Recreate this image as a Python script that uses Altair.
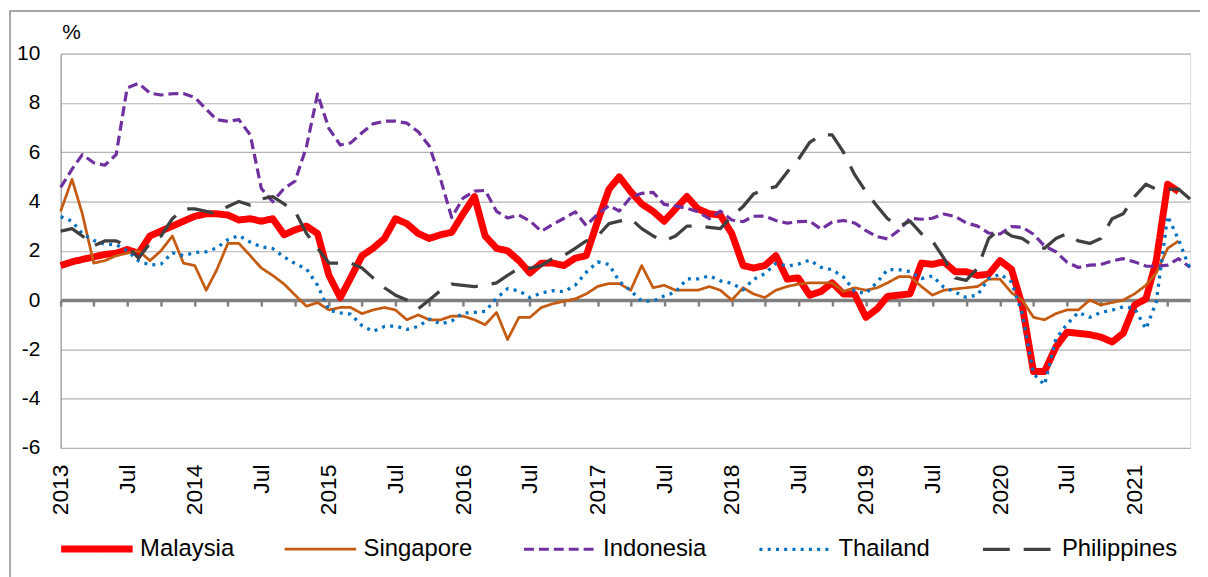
import altair as alt
import pandas as pd

# Monthly, Jan 2013 .. Jun 2021 (102 months)
months = pd.date_range("2013-01-01", "2021-06-01", freq="MS")
dates = [d.strftime("%Y-%m-%dT00:00:00") for d in months]

countries = ["Malaysia", "Singapore", "Indonesia", "Thailand", "Philippines"]

malaysia = [
    1.4, 1.55, 1.65, 1.75, 1.85, 1.9, 2.05, 1.9, 2.6, 2.8, 3.0, 3.2,
    3.4, 3.5, 3.5, 3.45, 3.25, 3.3, 3.2, 3.3, 2.65, 2.85, 3.0, 2.7,
    1.0, 0.1, 0.9, 1.8, 2.1, 2.5, 3.3, 3.1, 2.7, 2.5, 2.65, 2.75,
    3.5, 4.2, 2.6, 2.1, 2.0, 1.6, 1.1, 1.5, 1.5, 1.4, 1.7, 1.8,
    3.2, 4.5, 5.0, 4.4, 3.9, 3.6, 3.2, 3.7, 4.2, 3.7, 3.5, 3.45,
    2.7, 1.4, 1.3, 1.4, 1.8, 0.85, 0.9, 0.2, 0.35, 0.7, 0.25, 0.25,
    -0.7, -0.35, 0.15, 0.2, 0.25, 1.5, 1.45, 1.55, 1.15, 1.15, 1.0, 1.05,
    1.6, 1.25, -0.2, -2.9, -2.9, -1.9, -1.3, -1.35, -1.4, -1.5, -1.7, -1.35,
    -0.2, 0.05, 1.6, 4.7, 4.4, None,
]
singapore = [
    3.6, 4.9, 3.5, 1.5, 1.6, 1.8, 1.9, 2.0, 1.6, 2.0, 2.6, 1.5,
    1.4, 0.4, 1.2, 2.3, 2.3, 1.8, 1.3, 1.0, 0.65, 0.2, -0.25, -0.1,
    -0.4, -0.3, -0.3, -0.55, -0.4, -0.3, -0.4, -0.8, -0.6, -0.8, -0.8, -0.65,
    -0.65, -0.8, -1.0, -0.5, -1.6, -0.7, -0.7, -0.3, -0.15, -0.05, 0.05, 0.25,
    0.55, 0.67, 0.67, 0.4, 1.4, 0.5, 0.6, 0.4, 0.4, 0.4, 0.55, 0.4,
    0.0, 0.5, 0.25, 0.1, 0.4, 0.55, 0.65, 0.7, 0.7, 0.7, 0.35, 0.5,
    0.4, 0.5, 0.7, 0.95, 0.95, 0.55, 0.2, 0.4, 0.45, 0.5, 0.55, 0.85,
    0.85, 0.3, 0.0, -0.7, -0.8, -0.55, -0.4, -0.4, 0.0, -0.2, -0.1, 0.0,
    0.25, 0.6, 1.1, 2.1, 2.4, None,
]
indonesia = [
    4.57, 5.31, 5.90, 5.57, 5.47, 5.90, 8.61, 8.79, 8.40, 8.32, 8.37, 8.38,
    8.22, 7.75, 7.32, 7.25, 7.32, 6.70, 4.53, 3.99, 4.53, 4.83, 6.23, 8.36,
    6.96, 6.29, 6.38, 6.79, 7.15, 7.26, 7.26, 7.18, 6.83, 6.25, 4.89, 3.35,
    4.14, 4.42, 4.45, 3.60, 3.33, 3.45, 3.21, 2.79, 3.07, 3.31, 3.58, 3.02,
    3.49, 3.83, 3.61, 4.17, 4.33, 4.37, 3.88, 3.82, 3.72, 3.58, 3.30, 3.61,
    3.25, 3.18, 3.40, 3.41, 3.23, 3.12, 3.18, 3.20, 2.88, 3.16, 3.23, 3.13,
    2.82, 2.57, 2.48, 2.83, 3.32, 3.28, 3.32, 3.49, 3.39, 3.13, 3.00, 2.72,
    2.68, 2.98, 2.96, 2.67, 2.19, 1.96, 1.54, 1.32, 1.42, 1.44, 1.59, 1.68,
    1.55, 1.38, 1.37, 1.42, 1.68, 1.33,
]
thailand = [
    3.39, 3.2, 2.69, 2.42, 2.27, 2.25, 2.0, 1.59, 1.42, 1.46, 1.92, 1.8,
    1.93, 1.96, 2.11, 2.45, 2.62, 2.35, 2.16, 2.09, 1.75, 1.48, 1.26, 0.6,
    -0.41, -0.52, -0.57, -1.04, -1.27, -1.07, -1.05, -1.19, -1.07, -0.77, -0.97, -0.85,
    -0.53, -0.5, -0.46, 0.07, 0.46, 0.38, 0.1, 0.29, 0.38, 0.34, 0.6, 1.13,
    1.55, 1.44, 0.76, 0.38, -0.04, -0.05, 0.17, 0.32, 0.86, 0.86, 0.98, 0.78,
    0.68, 0.42, 0.84, 1.07, 1.49, 1.38, 1.46, 1.62, 1.33, 1.23, 0.94, 0.36,
    0.27, 0.73, 1.24, 1.23, 1.15, 0.87, 0.98, 0.52, 0.32, 0.11, 0.21, 0.87,
    1.05, 0.74, -0.54, -2.99, -3.44, -1.57, -0.98, -0.5, -0.7, -0.5, -0.41, -0.27,
    -0.34, -1.17, -0.08, 3.41, 2.44, 1.25,
]
philippines = [
    2.8, 2.9, 2.6, 2.2, 2.4, 2.4, 2.2, 1.7, 2.3, 2.6, 3.3, 3.7,
    3.7, 3.6, 3.5, 3.8, 4.0, 3.85, 4.1, 4.2, 3.9, 3.6, 2.7, 2.1,
    1.5, 1.5, 1.5, 1.3, 0.9, 0.5, 0.2, 0.0, -0.35, 0.0, 0.4, 0.65,
    0.6, 0.55, 0.6, 0.7, 1.0, 1.3, 1.3, 1.4, 1.7, 1.8, 2.1, 2.4,
    2.6, 3.1, 3.2, 3.3, 2.9, 2.6, 2.4, 2.6, 3.0, 3.0, 2.95, 2.9,
    3.4, 3.8, 4.3, 4.5, 4.6, 5.2, 5.7, 6.4, 6.7, 6.7, 6.0, 5.1,
    4.4, 3.8, 3.3, 3.0, 3.2, 2.7, 2.4, 1.7, 0.9, 0.8, 1.3, 2.5,
    2.9, 2.6, 2.5, 2.2, 2.1, 2.5, 2.7, 2.4, 2.3, 2.5, 3.3, 3.5,
    4.2, 4.7, 4.5, 4.5, 4.5, 4.1,
]

series = [malaysia, singapore, indonesia, thailand, philippines]
rows = []
for name, vals in zip(countries, series):
    for d, v in zip(dates, vals):
        if v is not None:
            rows.append({"date": d, "country": name, "value": v})
df = pd.DataFrame(rows)

colors = ["#FF0000", "#C55A11", "#7030A0", "#0070C0", "#404040"]
dashes = [[1, 0], [1, 0], [10, 5], [3, 5.3], [27, 14]]
widths = [7, 2.75, 3.2, 3.3, 3.3]

FONT = "Liberation Sans"

quarter_ticks = [alt.DateTime(year=y, month=m, date=1)
                 for y in range(2013, 2022) for m in (1, 4, 7, 10)
                 if (y, m) <= (2021, 6)]

label_expr = ("month(datum.value) == 0 ? timeFormat(datum.value, '%Y') : "
              "(month(datum.value) == 6 ? 'Jul' : '')")
y_label_expr = "datum.value < 0 ? '-' + abs(datum.value) : '' + datum.value"

W, H = 1137, 397

legend_kw = dict(
    orient="none", legendX=-3, legendY=459, direction="horizontal",
    columns=5, title=None, symbolType="stroke", symbolSize=5184,
    labelFont=FONT, labelFontSize=24, labelColor="#000000",
    labelOffset=4, columnPadding=45, padding=0, labelLimit=300,
)

lines = alt.Chart(df).mark_line(strokeJoin="round", strokeCap="butt").encode(
    x=alt.X(
        "date:T",
        scale=alt.Scale(domain=[alt.DateTime(year=2013, month=1, date=1),
                                alt.DateTime(year=2021, month=6, date=1)]),
        axis=alt.Axis(
            values=quarter_ticks, labelExpr=label_expr, title=None,
            offset=-(H * 6 / 16), labelAngle=270, labelPadding=159,
            labelFontSize=23, labelFont=FONT, labelColor="#000000",
            domainColor="#808080", domainWidth=3.5,
            tickColor="#808080", tickWidth=2.5, tickSize=6,
            grid=False, labelOverlap=False, labelFlush=False,
        ),
    ),
    y=alt.Y(
        "value:Q",
        scale=alt.Scale(domain=[-6, 10], nice=False, zero=False),
        axis=alt.Axis(
            values=list(range(-6, 11, 2)), labelExpr=y_label_expr,
            title="%", titleAngle=0,
            titleAlign="left", titleBaseline="alphabetic", titleX=1, titleY=-15,
            titleFont=FONT, titleFontSize=21, titleFontWeight="normal",
            titleColor="#000000",
            labelFont=FONT, labelFontSize=21, labelColor="#000000",
            labelPadding=21, ticks=False, tickSize=0,
            domainColor="#898989", gridColor="#b3b3b3", gridWidth=1.2,
        ),
    ),
    color=alt.Color(
        "country:N",
        scale=alt.Scale(domain=countries, range=colors),
        legend=alt.Legend(**legend_kw),
    ),
    strokeDash=alt.StrokeDash(
        "country:N", scale=alt.Scale(domain=countries, range=dashes),
        legend=alt.Legend(**legend_kw),
    ),
    strokeWidth=alt.StrokeWidth(
        "country:N", scale=alt.Scale(type="ordinal", domain=countries, range=widths),
        legend=alt.Legend(**legend_kw),
    ),
)

frame = alt.Chart(pd.DataFrame({"k": [0]})).mark_rect(
    fill="transparent", stroke="#8c8c8c", strokeWidth=1.5
).encode(
    x=alt.value(-51), x2=alt.value(1200),
    y=alt.value(-43), y2=alt.value(600),
)

chart = alt.layer(frame, lines).properties(
    width=W, height=H,
    autosize=alt.AutoSizeParams(type="none"),
    padding={"left": 53, "top": 44, "right": 10, "bottom": 128},
).configure_view(
    stroke="#8c8c8c", strokeWidth=1.5
).configure(
    font=FONT
)

chart.save("out.html", embed_options={"renderer": "svg", "actions": False})
